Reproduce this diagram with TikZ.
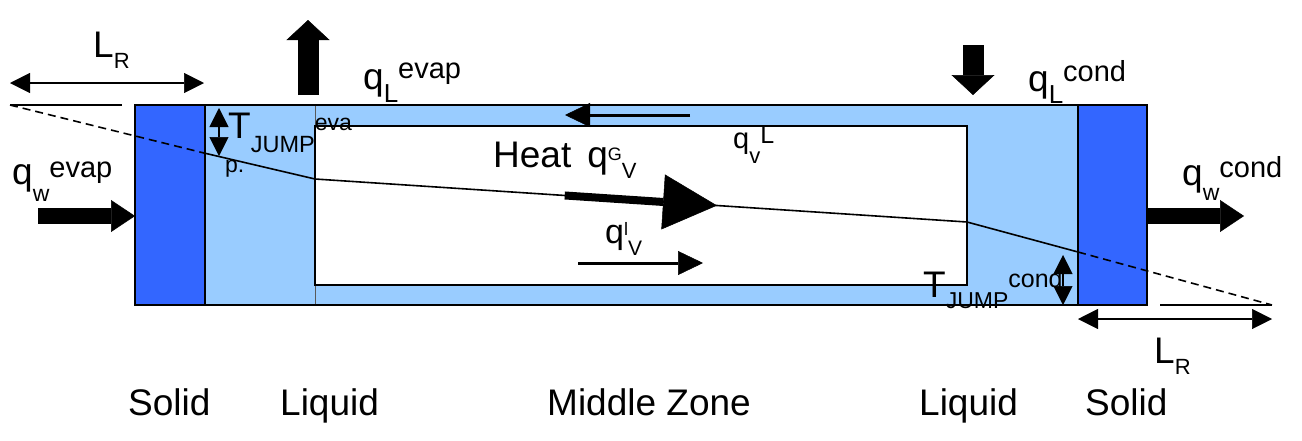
\documentclass[tikz,border=0pt]{standalone}
\usepackage{fontspec}
\setmainfont{Liberation Sans}
\usetikzlibrary{arrows.meta,calc}
\definecolor{solidblue}{HTML}{3366FF}
\definecolor{liquidblue}{HTML}{99CCFF}
% shifted small text: #1 raise (pt), #2 size (pt), #3 text
\newcommand{\shifttx}[3]{\raisebox{#1pt}{\fontsize{#2}{#2}\selectfont #3}}

\begin{document}
\begin{tikzpicture}[x=1pt,y=-1pt,
  every node/.style={inner sep=0pt,anchor=base west,font=\fontsize{37}{40}\selectfont},
  wall/.style={fill=solidblue,draw=black,line width=2pt},
  templine/.style={line width=1.6pt},
  tempdash/.style={line width=1.6pt,dash pattern=on 8pt off 5pt},
  thinarrow/.style={-{Triangle[length=25pt,width=24pt,line width=0.5pt]},line width=3pt},
  dimarrow/.style={{Triangle[length=20pt,width=20pt,line width=0.5pt]}-{Triangle[length=20pt,width=20pt,line width=0.5pt]},line width=2.5pt},
  jumparrow/.style={{Triangle[length=19pt,width=19pt,line width=0.5pt]}-{Triangle[length=19pt,width=19pt,line width=0.5pt]},line width=2pt},
  sidearrow/.style={-{Triangle[length=24pt,width=32pt,line width=0.5pt]},line width=16pt},
  vertarrow/.style={-{Triangle[length=20pt,width=43pt,line width=0.5pt]},line width=21pt},
  heatarrow/.style={-{Triangle[length=54pt,width=55pt,line width=0.5pt]},line width=8pt},
  ]
  \useasboundingbox (0,0) rectangle (1302,440);

  %--- pipe body ---
  \fill[liquidblue] (205,105) rectangle (1078,305);
  \draw[line width=1pt,gray!70!black] (315,105) -- (315,305);
  \draw[fill=white,line width=2pt] (315,126) rectangle (967,285);
  \draw[wall] (135,105) rectangle (205,305);
  \draw[wall] (1078,105) rectangle (1147,305);
  \draw[line width=2pt] (135,105) rectangle (1147,305);

  %--- temperature profile ---
  \coordinate (tA) at (10,105);
  \coordinate (tB) at (204,153);
  \coordinate (tC) at (315,179);
  \coordinate (tD) at (967,222);
  \coordinate (tE) at (1078,252);
  \coordinate (tF) at (1272,305);
  \draw[tempdash] (tA) -- (tB);
  \draw[templine] (tB) -- (tC) -- (tD) -- (tE);
  \draw[tempdash] (tE) -- (tF);

  %--- reference lines ---
  \coordinate (refl) at (122,105);
  \coordinate (refr) at (1160,305);
  \draw[line width=2pt] (tA) -- (refl);
  \draw[line width=2pt] (refr) -- (tF);

  %--- L_R dimensions ---
  \coordinate (lrla) at (10,83);
  \coordinate (lrlb) at (204,83);
  \coordinate (lrra) at (1078,319);
  \coordinate (lrrb) at (1272,319);
  \draw[dimarrow] (lrla) -- (lrlb);
  \draw[dimarrow] (lrra) -- (lrrb);
  \node (lrl) at (93,57) {L\shifttx{-11}{22}{R}};
  \node (lrr) at (1154,363) {L\shifttx{-11}{22}{R}};

  %--- temperature jumps ---
  \coordinate (jea) at (219,108);
  \coordinate (jeb) at (219,156);
  \coordinate (jca) at (1063,255);
  \coordinate (jcb) at (1063,305);
  \draw[jumparrow] (jea) -- (jeb);
  \draw[jumparrow] (jca) -- (jcb);
  \node (tje) at (228,138) {T\shifttx{-14}{23.5}{JUMP}\shifttx{8}{23}{eva}};
  \node (tjp) at (225,172) {\fontsize{23}{24}\selectfont p.};
  \node (tjc) at (923,297) {T\shifttx{-11}{23}{JUMP}\shifttx{10}{25}{cond}};

  %--- wall heat fluxes ---
  \coordinate (qwea) at (38,216);
  \coordinate (qweb) at (135,216);
  \coordinate (qwca) at (1147,216);
  \coordinate (qwcb) at (1244,216);
  \draw[sidearrow] (qwea) -- (qweb);
  \draw[sidearrow] (qwca) -- (qwcb);
  \node (qwe) at (12,184) {q\shifttx{-17}{23}{w}\shifttx{7}{29}{evap}};
  \node (qwc) at (1182,185) {q\shifttx{-15}{23}{w}\shifttx{8}{29}{cond}};

  %--- liquid heat fluxes ---
  \coordinate (qlea) at (308,95);
  \coordinate (qleb) at (308,20);
  \coordinate (qlca) at (973,45);
  \coordinate (qlcb) at (973,95);
  \draw[vertarrow] (qlea) -- (qleb);
  \draw[vertarrow] (qlca) -- (qlcb);
  \node (qle) at (363,89) {q\shifttx{-13}{26}{L}\shifttx{11}{29}{evap}};
  \node (qlc) at (1028,91) {q\shifttx{-12}{26}{L}\shifttx{10}{29}{cond}};

  %--- middle zone fluxes ---
  \coordinate (qvla) at (690,115);
  \coordinate (qvlb) at (565,115);
  \draw[thinarrow] (qvla) -- (qvlb);
  \node (qvl) at (733,148) {\fontsize{29}{30}\selectfont q\shifttx{-15}{22}{v}\shifttx{5}{25}{L}};
  \coordinate (qiva) at (578,263);
  \coordinate (qivb) at (703,263);
  \draw[thinarrow] (qiva) -- (qivb);
  \node (qiv) at (605,243) {\fontsize{34}{36}\selectfont q\shifttx{8}{18}{l}\shifttx{-12}{21}{V}};
  \draw[heatarrow] ($(tC)!0.383!(tD)$) -- ($(tC)!0.6166!(tD)$);
  \node (heat) at (493,167) {Heat\hspace{16pt}q\shifttx{7}{18}{G}\shifttx{-11}{22}{V}};

  %--- zone names ---
  \node (solidl) at (128,415) {Solid};
  \node (liquidl) at (280,415) {Liquid};
  \node (middle) at (547,415) {Middle Zone};
  \node (liquidr) at (919,415) {Liquid};
  \node (solidr) at (1085,415) {Solid};
\end{tikzpicture}
\end{document}
